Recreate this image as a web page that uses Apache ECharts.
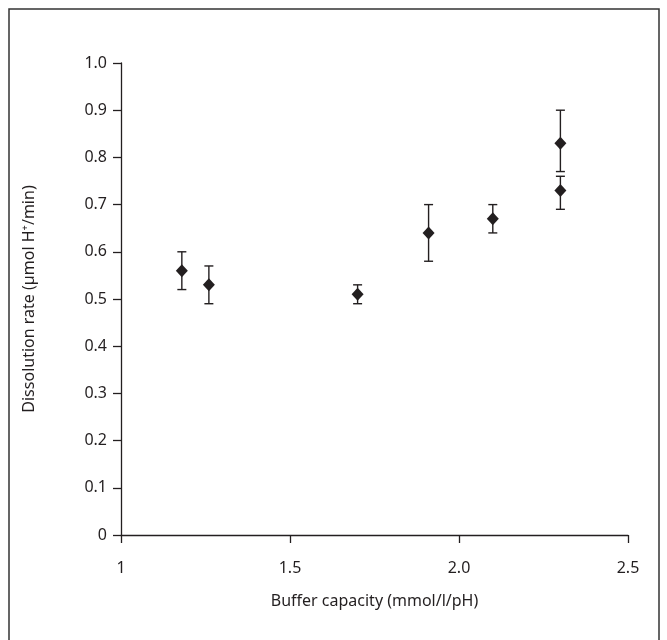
<!DOCTYPE html>
<html>
<head>
<meta charset="utf-8">
<script src="https://cdn.jsdelivr.net/npm/echarts@6/dist/echarts.min.js"></script>
<style>
  html, body { margin: 0; padding: 0; background: #fff; }
  #main { width: 667px; height: 640px; }
</style>
</head>
<body>
<div id="main"></div>
<script>
// buffer capacity (x) and dissolution rate (y), with error bar ends
var bufferCap = [1.18, 1.26, 1.70, 1.91, 2.10, 2.30, 2.30];
var rate      = [0.56, 0.53, 0.51, 0.64, 0.67, 0.83, 0.73];
var errLow    = [0.52, 0.49, 0.49, 0.58, 0.64, 0.77, 0.69];
var errHigh   = [0.60, 0.57, 0.53, 0.70, 0.70, 0.90, 0.76];
var xTickLabels = ['1', '1.5', '2.0', '2.5'];
var yTickLabels = ['0', '0.1', '0.2', '0.3', '0.4', '0.5', '0.6', '0.7', '0.8', '0.9', '1.0'];

var ink = '#231f20';
var font = 'Noto Sans';

var points = [];
var bars = [];
for (var i = 0; i < bufferCap.length; i++) {
  points.push([bufferCap[i], rate[i]]);
  bars.push([bufferCap[i], errLow[i], errHigh[i]]);
}

var chart = echarts.init(document.getElementById('main'));

var options = {
  backgroundColor: '#fff',
  animation: false,
  graphic: [{
    type: 'rect',
    shape: { x: 9, y: 9, width: 650, height: 660 },
    style: { fill: null, stroke: '#333', lineWidth: 1.5 },
    silent: true
  }],
  grid: { left: 121, top: 63, width: 507, height: 472 },
  xAxis: {
    type: 'value',
    min: 1, max: 2.5, interval: 0.5,
    splitLine: { show: false },
    axisLine: { lineStyle: { color: ink, width: 1.3 } },
    axisTick: { length: 8, lineStyle: { color: ink, width: 1.3 } },
    axisLabel: {
      margin: 25, color: ink, fontFamily: font, fontSize: 16,
      formatter: function (v) { return xTickLabels[Math.round((v - 1) / 0.5)]; }
    },
    name: 'Buffer capacity (mmol/l/pH)',
    nameLocation: 'middle', nameGap: 58,
    nameTextStyle: { color: ink, fontFamily: font, fontSize: 16 }
  },
  yAxis: {
    type: 'value',
    min: 0, max: 1, interval: 0.1,
    splitLine: { show: false },
    axisLine: { lineStyle: { color: ink, width: 1.3 } },
    axisTick: { length: 8, lineStyle: { color: ink, width: 1.3 } },
    axisLabel: {
      margin: 14, color: ink, fontFamily: font, fontSize: 16,
      formatter: function (v) { return yTickLabels[Math.round(v * 10)]; }
    },
    name: 'Dissolution rate (µmol H⁺/min)',
    nameLocation: 'middle', nameGap: 84, nameRotate: 90,
    nameTextStyle: { color: ink, fontFamily: font, fontSize: 16 }
  },
  series: [{
    type: 'custom',
    data: bars,
    z: 1,
    renderItem: function (params, api) {
      var top = api.coord([api.value(0), api.value(2)]);
      var bot = api.coord([api.value(0), api.value(1)]);
      var w = 4.5;
      var st = { stroke: ink, lineWidth: 1.4 };
      return {
        type: 'group',
        children: [
          { type: 'line', shape: { x1: top[0], y1: top[1], x2: bot[0], y2: bot[1] }, style: st },
          { type: 'line', shape: { x1: top[0] - w, y1: top[1], x2: top[0] + w, y2: top[1] }, style: st },
          { type: 'line', shape: { x1: bot[0] - w, y1: bot[1], x2: bot[0] + w, y2: bot[1] }, style: st }
        ]
      };
    }
  }, {
    type: 'scatter',
    data: points,
    z: 2,
    symbol: 'diamond',
    symbolSize: [12, 13],
    itemStyle: { color: ink, opacity: 1 }
  }]
};

chart.setOption(options);
</script>
</body>
</html>
